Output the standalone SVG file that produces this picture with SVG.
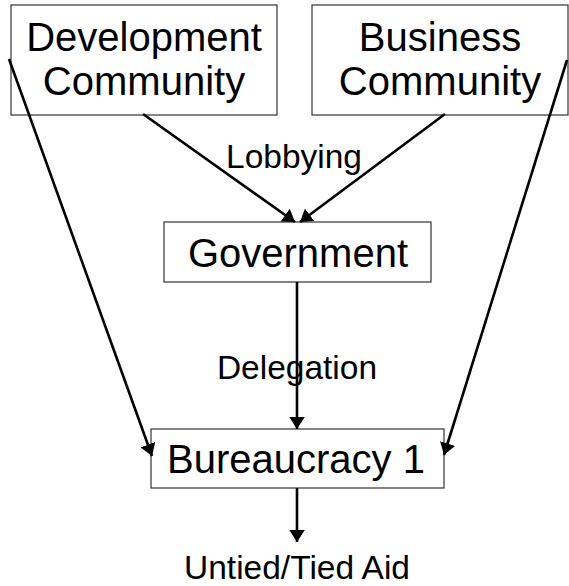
<svg xmlns="http://www.w3.org/2000/svg" width="569" height="586" viewBox="0 0 569 586">
  <style>
    .box { fill: #fff; stroke: #333; stroke-width: 1.2; }
    .node { font-family: "Liberation Sans", Arial, sans-serif; font-size: 40px; fill: #000; text-anchor: middle; }
    .lbl { font-family: "Liberation Sans", Arial, sans-serif; font-size: 33.5px; fill: #000; text-anchor: middle; }
    .edge { stroke: #000; stroke-width: 2.6; fill: none; marker-end: url(#head); }
  </style>
  <defs>
    <!-- filled arrowhead, a little wider than it is long -->
    <marker id="head" viewBox="0 0 10 13" refX="10" refY="6.5" markerWidth="4.6" markerHeight="6" markerUnits="strokeWidth" orient="auto">
      <path d="M0,0 L10,6.5 L0,13 z" fill="#000"/>
    </marker>
  </defs>

  <rect width="569" height="586" fill="#fff"/>

  <g id="node-development">
    <rect class="box" x="11" y="5" width="266" height="110"/>
    <text class="node" x="144" y="51">Development</text>
    <text class="node" x="144" y="95">Community</text>
  </g>

  <g id="node-business">
    <rect class="box" x="312" y="5" width="256" height="110"/>
    <text class="node" x="440" y="51">Business</text>
    <text class="node" x="440" y="95">Community</text>
  </g>

  <g id="node-government">
    <rect class="box" x="164" y="222" width="267" height="60"/>
    <text class="node" x="298" y="267">Government</text>
  </g>

  <g id="node-bureaucracy">
    <rect class="box" x="151" y="429" width="293" height="59"/>
    <text class="node" x="296" y="473">Bureaucracy 1</text>
  </g>

  <g id="connectors">
    <line class="edge" x1="143" y1="114" x2="295" y2="222"/>
    <line class="edge" x1="445" y1="114" x2="300" y2="222"/>
    <line class="edge" x1="297" y1="282" x2="297" y2="429"/>
    <line class="edge" x1="9" y1="59" x2="152" y2="456"/>
    <line class="edge" x1="567" y1="60" x2="444" y2="455"/>
    <line class="edge" x1="297" y1="488" x2="297" y2="542"/>
  </g>

  <g id="labels">
    <text class="lbl" x="294" y="168">Lobbying</text>
    <text class="lbl" x="297" y="379">Delegation</text>
    <text class="lbl" x="297" y="579">Untied/Tied Aid</text>
  </g>
</svg>
